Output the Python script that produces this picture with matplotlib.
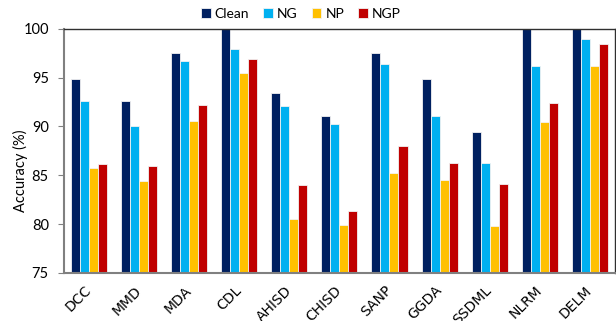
import numpy as np
import matplotlib.pyplot as plt
import matplotlib.transforms as mtransforms

plt.rcParams['font.family'] = ['Lato', 'DejaVu Sans']

# Data
methods = ['DCC', 'MMD', 'MDA', 'CDL', 'AHISD', 'CHISD', 'SANP',
           'GGDA', 'SSDML', 'NLRM', 'DELM']
clean = [94.9, 92.6, 97.5, 100.0, 93.4, 91.1, 97.5, 94.9, 89.4, 100.0, 100.0]
ng = [92.6, 90.0, 96.7, 97.9, 92.1, 90.3, 96.4, 91.1, 86.3, 96.2, 99.0]
np_ = [85.7, 84.4, 90.6, 95.5, 80.5, 79.9, 85.2, 84.5, 79.8, 90.5, 96.2]
ngp = [86.2, 86.0, 92.2, 96.9, 84.0, 81.3, 88.0, 86.3, 84.1, 92.4, 98.5]

series = [('Clean', clean, '#002060'), ('NG', ng, '#00B0F0'),
          ('NP', np_, '#FFC000'), ('NGP', ngp, '#C00000')]

fig = plt.figure(figsize=(6.16, 3.21), dpi=100)
ax = fig.add_axes([0.104, 0.150, 0.894, 0.760])

x = np.arange(len(methods))
width = 0.18
for i, (name, vals, col) in enumerate(series):
    ax.bar(x + (i - 1.5) * width, vals, width, label=name, color=col,
           edgecolor='#f2f2f2', linewidth=0.6)

ax.set_xlim(-0.5, len(methods) - 0.5)
ax.set_ylim(75, 100)
ax.set_yticks([75, 80, 85, 90, 95, 100])
ax.set_xticks(x)
ax.set_xticklabels(methods, rotation=45, ha='right', va='center',
                   rotation_mode='anchor', fontsize=10, family='DejaVu Sans')
shift = mtransforms.ScaledTranslation(3 / 100, 0, fig.dpi_scale_trans)
for lab in ax.get_xticklabels():
    lab.set_transform(lab.get_transform() + shift)
ax.tick_params(axis='x', length=0, pad=11)
ax.tick_params(axis='y', direction='out', length=4, color='#808080',
               labelsize=10.5, pad=7)
ax.set_ylabel('Accuracy (%)', fontsize=10.5)
ax.yaxis.set_label_coords(-0.066, 0.42)

for s in ['left', 'bottom']:
    ax.spines[s].set_color('#808080')
    ax.spines[s].set_linewidth(1.5)
for s in ['top', 'right']:
    ax.spines[s].set_color('#303030')
    ax.spines[s].set_linewidth(1.0)

ax.legend(loc='center', bbox_to_anchor=(0.43, 1.063), ncol=4, frameon=False,
          fontsize=10, handlelength=0.7, handleheight=0.7, handletextpad=0.3,
          columnspacing=1.0, borderaxespad=0, borderpad=0)

fig.savefig('out.png', dpi=100)
